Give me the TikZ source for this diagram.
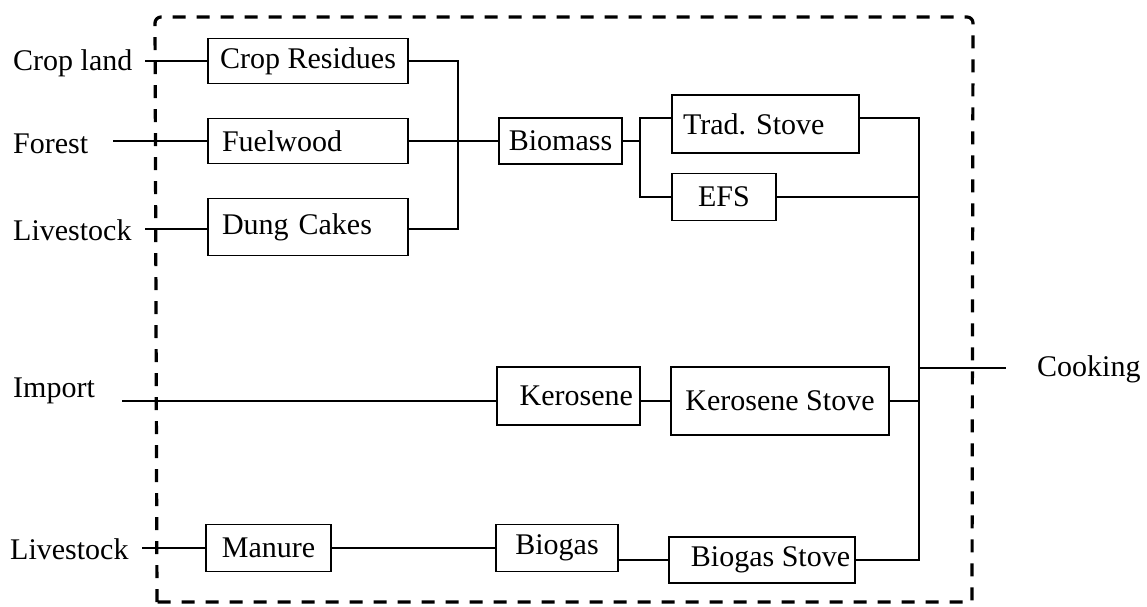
\documentclass[tikz,border=0pt]{standalone}
\usepackage{fontspec}
\setmainfont{Liberation Serif}
\begin{document}
\begin{tikzpicture}[x=1pt,y=-1pt,
  lbl/.style={font=\fontsize{30}{36}\selectfont, inner sep=0pt, anchor=west},
  box/.style={draw, line width=1.8pt, inner sep=0pt, font=\fontsize{30}{36}\selectfont},
  flow/.style={line width=1.8pt},
  boundary/.style={line width=3.2pt, dash pattern=on 13pt off 11pt}]
\useasboundingbox (0,0) rectangle (1147,606);

% system boundary
\draw[boundary] (157,602) [rounded corners=6pt] -- (155,17) -- (973,17) [sharp corners] -- (972,602) -- cycle;

% sources outside the boundary
\node[lbl] (cl)  at (13,63)   {Crop land};
\node[lbl] (fo)  at (13,144)  {Forest};
\node[lbl] (ls1) at (13,230)  {Livestock};
\node[lbl] (im)  at (13,391)  {Import};
\node[lbl] (ls2) at (10,549)  {Livestock};
\node[lbl] (ck)  at (1037,369) {Cooking};

% biomass chain
\node[box, minimum width=200, minimum height=45] (cr) at (308,61) {Crop Residues};
\node[box, minimum width=200, minimum height=45, text width=172, align=left] (fw) at (308,141) {Fuelwood};
\node[box, minimum width=200, minimum height=57, text width=172, align=left] (dc) at (308,227) {Dung Cakes};
\node[box, minimum width=123, minimum height=46] (bm) at (560.5,141) {Biomass};
\node[box, minimum width=187, minimum height=58, text width=165, align=left] (ts) at (765.5,124) {Trad.\ Stove};
\node[box, minimum width=104, minimum height=47] (efs) at (724,197) {EFS};

% kerosene chain
\node[box, minimum width=143, minimum height=58, text width=129, align=right] (ke) at (568.5,396) {Kerosene};
\node[box, minimum width=218, minimum height=68] (ks) at (780,401) {Kerosene Stove};

% biogas chain
\node[box, minimum width=125, minimum height=47] (mn) at (268.5,548) {Manure};
\node[box, minimum width=122, minimum height=47] (bg) at (557,548) {Biogas};
\node[box, minimum width=186, minimum height=46] (bs) at (762,560) {\hspace*{17pt}Biogas Stove};

% junction points
\coordinate (cl-o)  at (145,61);
\coordinate (fo-o)  at (113,141);
\coordinate (ls1-o) at (145,229);
\coordinate (im-o)  at (122,401);
\coordinate (ls2-o) at (142,548);
\coordinate (b1t) at (458,61);
\coordinate (b1b) at (458,229);
\coordinate (b2t) at (640,118);
\coordinate (b2b) at (640,197);
\coordinate (b3t) at (919,118);
\coordinate (b3e) at (919,197);
\coordinate (b3k) at (919,401);
\coordinate (b3c) at (919,368);
\coordinate (b3b) at (919,560);
\coordinate (ck-i) at (1006,368);

% inputs
\draw[flow] (cl-o) -- (cl-o -| cr.west);
\draw[flow] (fo-o) -- (fo-o -| fw.west);
\draw[flow] (ls1-o) -- (ls1-o -| dc.west);
\draw[flow] (im-o) -- (im-o -| ke.west);
\draw[flow] (ls2-o) -- (ls2-o -| mn.west);

% biomass collection and split
\draw[flow] (cr.east) -- (b1t) -- (b1b) -- (b1b -| dc.east);
\draw[flow] (fw.east) -- (bm.west);
\draw[flow] (bm.east) -- (bm.east -| b2t);
\draw[flow] (b2t -| ts.west) -- (b2t) -- (b2b) -- (b2b -| efs.west);

% kerosene and biogas links
\draw[flow] (ks.west -| ke.east) -- (ks.west);
\draw[flow] (mn.east) -- (bg.west);
\draw[flow] (bs.west -| bg.east) -- (bs.west);

% stoves to cooking
\draw[flow] (b3t -| ts.east) -- (b3t) -- (b3b) -- (bs.east);
\draw[flow] (efs.east) -- (b3e);
\draw[flow] (ks.east) -- (b3k);
\draw[flow] (b3c) -- (ck-i);
\end{tikzpicture}
\end{document}
